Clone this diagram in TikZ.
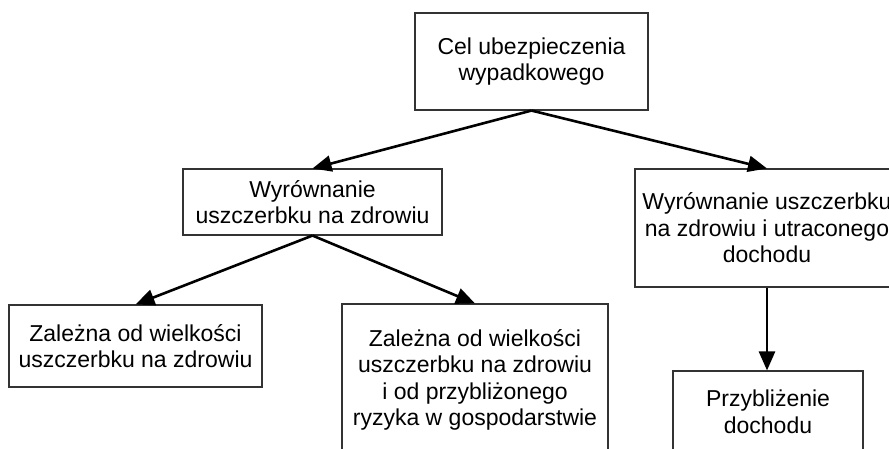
\documentclass[tikz,border=0pt]{standalone}
\usepackage{fontspec}
\setmainfont{Liberation Sans}
\usetikzlibrary{arrows.meta}
\tikzset{
  box/.style={draw=black!80, line width=1.1pt, rectangle, align=center, inner sep=0pt,
    font=\fontsize{23}{26.5}\selectfont},
  conn/.style={line width=2.6pt, -{Triangle[length=19pt,width=16pt]}, shorten >=0pt}
}
\begin{document}
\begin{tikzpicture}[x=1pt,y=-1pt]
\useasboundingbox (0,0) rectangle (889,448);
\clip (0,0) rectangle (889,448);
\fill[white] (0,0) rectangle (889,448);
\node[box, minimum width=233pt, minimum height=97pt] (top) at (531.5,61.5) {Cel ubezpieczenia\\wypadkowego};
\node[box, minimum width=259pt, minimum height=66pt] (midL) at (312.5,202) {Wyrównanie\\uszczerbku na zdrowiu};
\node[box, minimum width=264pt, minimum height=118pt] (right) at (767,228) {Wyrównanie uszczerbku\\na zdrowiu i utraconego\\dochodu};
\node[box, minimum width=253pt, minimum height=82pt] (botL) at (135.5,346) {Zależna od wielkości\\uszczerbku na zdrowiu};
\node[box, minimum width=266pt, minimum height=152pt] (botM) at (475,380) {Zależna od wielkości\\uszczerbku na zdrowiu\\i od przybliżonego\\ryzyka w gospodarstwie};
\node[box, minimum width=190pt, minimum height=82pt] (botR) at (768,412) {Przybliżenie\\dochodu};
\draw[conn] (top.south) -- (midL.north);
\draw[conn] (top.south) -- (right.north);
\draw[conn] (midL.south) -- (botL.north);
\draw[conn] (midL.south) -- (botM.north);
\draw[conn] (right.south) -- (right.south |- botR.north);
\end{tikzpicture}
\end{document}
